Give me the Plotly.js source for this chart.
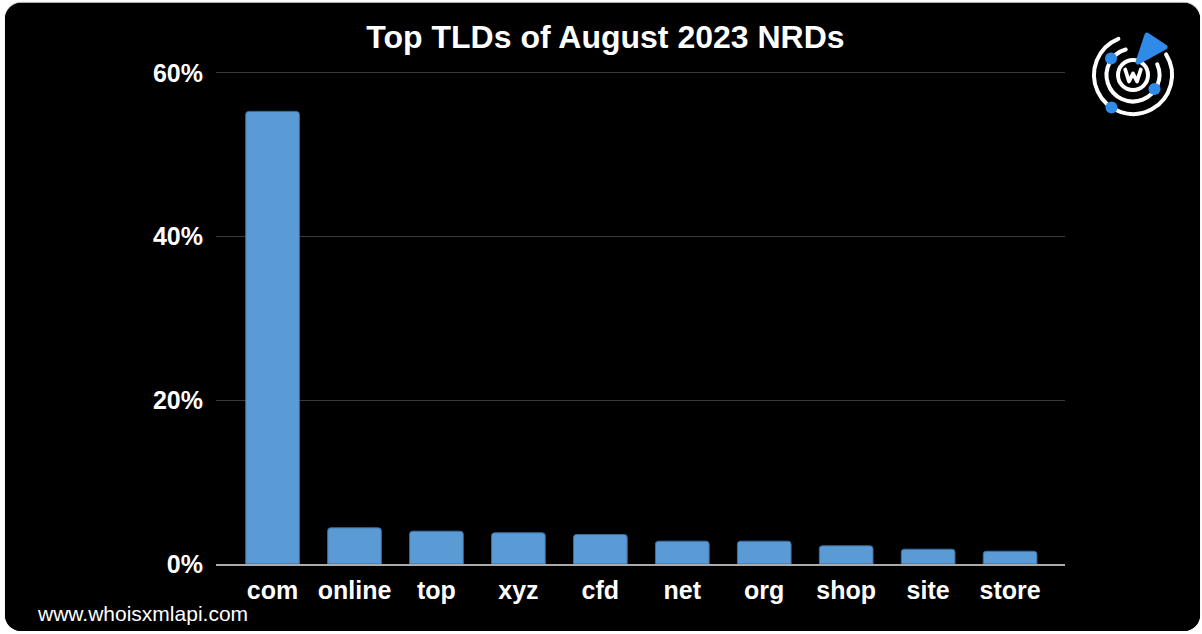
<!DOCTYPE html>
<html>
<head>
<meta charset="utf-8">
<script src="https://cdn.plot.ly/plotly-3.0.1.min.js"></script>
<style>
  html, body { margin: 0; padding: 0; background: #ffffff; width: 1202px; height: 634px; overflow: hidden; }
  #chart { position: absolute; left: 5px; top: 3px; width: 1195px; height: 628px;
           border-radius: 16px; overflow: hidden; background: #000;
           box-shadow: 0 -1px 1px rgba(0,0,0,0.35); }
</style>
</head>
<body>
<div id="chart"></div>
<script>
// ---- data ----
const categories = ["com", "online", "top", "xyz", "cfd", "net", "org", "shop", "site", "store"];
const shares = [55.3, 4.42, 4.01, 3.81, 3.6, 2.79, 2.79, 2.22, 1.81, 1.56];
const yTickValues = [0, 20, 40, 60];
const yTickLabels = ["0%", "20%", "40%", "60%"];
const chartTitle = "Top TLDs of August 2023 NRDs";
const footerText = "www.whoisxmlapi.com";

const FONT = '"Liberation Sans", Arial, Helvetica, sans-serif';

// logo (decorative) as inline SVG
function arc(r, startDeg, sweepDeg) {
  const a0 = startDeg * Math.PI / 180, a1 = (startDeg + sweepDeg) * Math.PI / 180;
  const x0 = r * Math.cos(a0), y0 = r * Math.sin(a0);
  const x1 = r * Math.cos(a1), y1 = r * Math.sin(a1);
  return `M${x0.toFixed(2)},${y0.toFixed(2)} A${r},${r} 0 ${sweepDeg > 180 ? 1 : 0} 1 ${x1.toFixed(2)},${y1.toFixed(2)}`;
}
const logoSvg = `<svg xmlns="http://www.w3.org/2000/svg" width="90" height="90" viewBox="-45 -45 90 90">
<g fill="none" stroke="#ffffff" stroke-width="4" stroke-linecap="round">
<path d="${arc(39, -32, 280)}"/>
<path d="${arc(26.5, -24, 278)}"/>
<circle cx="0" cy="0" r="15"/>
<polyline points="-7.8,-5.5 -4,6.5 0,-1.5 4,6.5 7.8,-5.5" stroke-linejoin="round" stroke-width="3.8"/>
</g>
<polygon points="14,-40 32,-28 5,-13" fill="#2f8ae8" stroke="#2f8ae8" stroke-width="5" stroke-linejoin="round"/>
<circle cx="-22" cy="-16.5" r="6" fill="#2f8ae8"/>
<circle cx="21.5" cy="14" r="6" fill="#2f8ae8"/>
<circle cx="-21.5" cy="32.5" r="6" fill="#2f8ae8"/>
</svg>`;

const trace = {
  type: "bar",
  x: categories,
  y: shares,
  marker: { color: "#5b9bd5", line: { color: "#3c6f9f", width: 1 } },
  hoverinfo: "x+y"
};

const layout = {
  width: 1195,
  height: 628,
  paper_bgcolor: "#000000",
  plot_bgcolor: "#000000",
  margin: { l: 211, r: 135, t: 65, b: 67 },
  bargap: 0.345,
  barcornerradius: 3,
  showlegend: false,
  font: { family: FONT, color: "#ffffff" },
  title: {
    text: "<b>" + chartTitle + "</b>",
    font: { family: FONT, size: 32, color: "#ffffff" },
    x: 0.5025, xref: "container", xanchor: "center",
    y: 0.946, yref: "container", yanchor: "middle"
  },
  xaxis: {
    type: "category",
    range: [-0.69, 9.67],
    showgrid: false,
    showline: true,
    linecolor: "#ababab",
    linewidth: 2,
    ticks: "",
    tickfont: { family: FONT, size: 25, color: "#ffffff", weight: "bold" },
    ticklabelstandoff: 3,
    fixedrange: true
  },
  yaxis: {
    range: [0, 60.6],
    tickvals: yTickValues,
    ticktext: yTickLabels,
    showgrid: true,
    gridcolor: "#3a3a3a",
    gridwidth: 1,
    zeroline: false,
    showline: false,
    ticks: "",
    tickfont: { family: FONT, size: 25, color: "#ffffff", weight: "bold" },
    ticklabelstandoff: 12,
    fixedrange: true
  },
  annotations: [
    {
      text: footerText,
      xref: "paper", yref: "paper",
      x: -0.2132, y: -0.1008,
      xanchor: "left", yanchor: "middle",
      showarrow: false,
      font: { family: FONT, size: 21, color: "#ffffff" }
    }
  ],
  images: [
    {
      source: "data:image/svg+xml;charset=utf-8," + encodeURIComponent(logoSvg),
      xref: "paper", yref: "paper",
      x: 1.0271, y: 1.0766,
      sizex: 0.1060, sizey: 0.1815,
      xanchor: "left", yanchor: "top",
      sizing: "stretch",
      layer: "above"
    }
  ]
};

Plotly.newPlot("chart", [trace], layout, { displayModeBar: false, staticPlot: true });
</script>
</body>
</html>
